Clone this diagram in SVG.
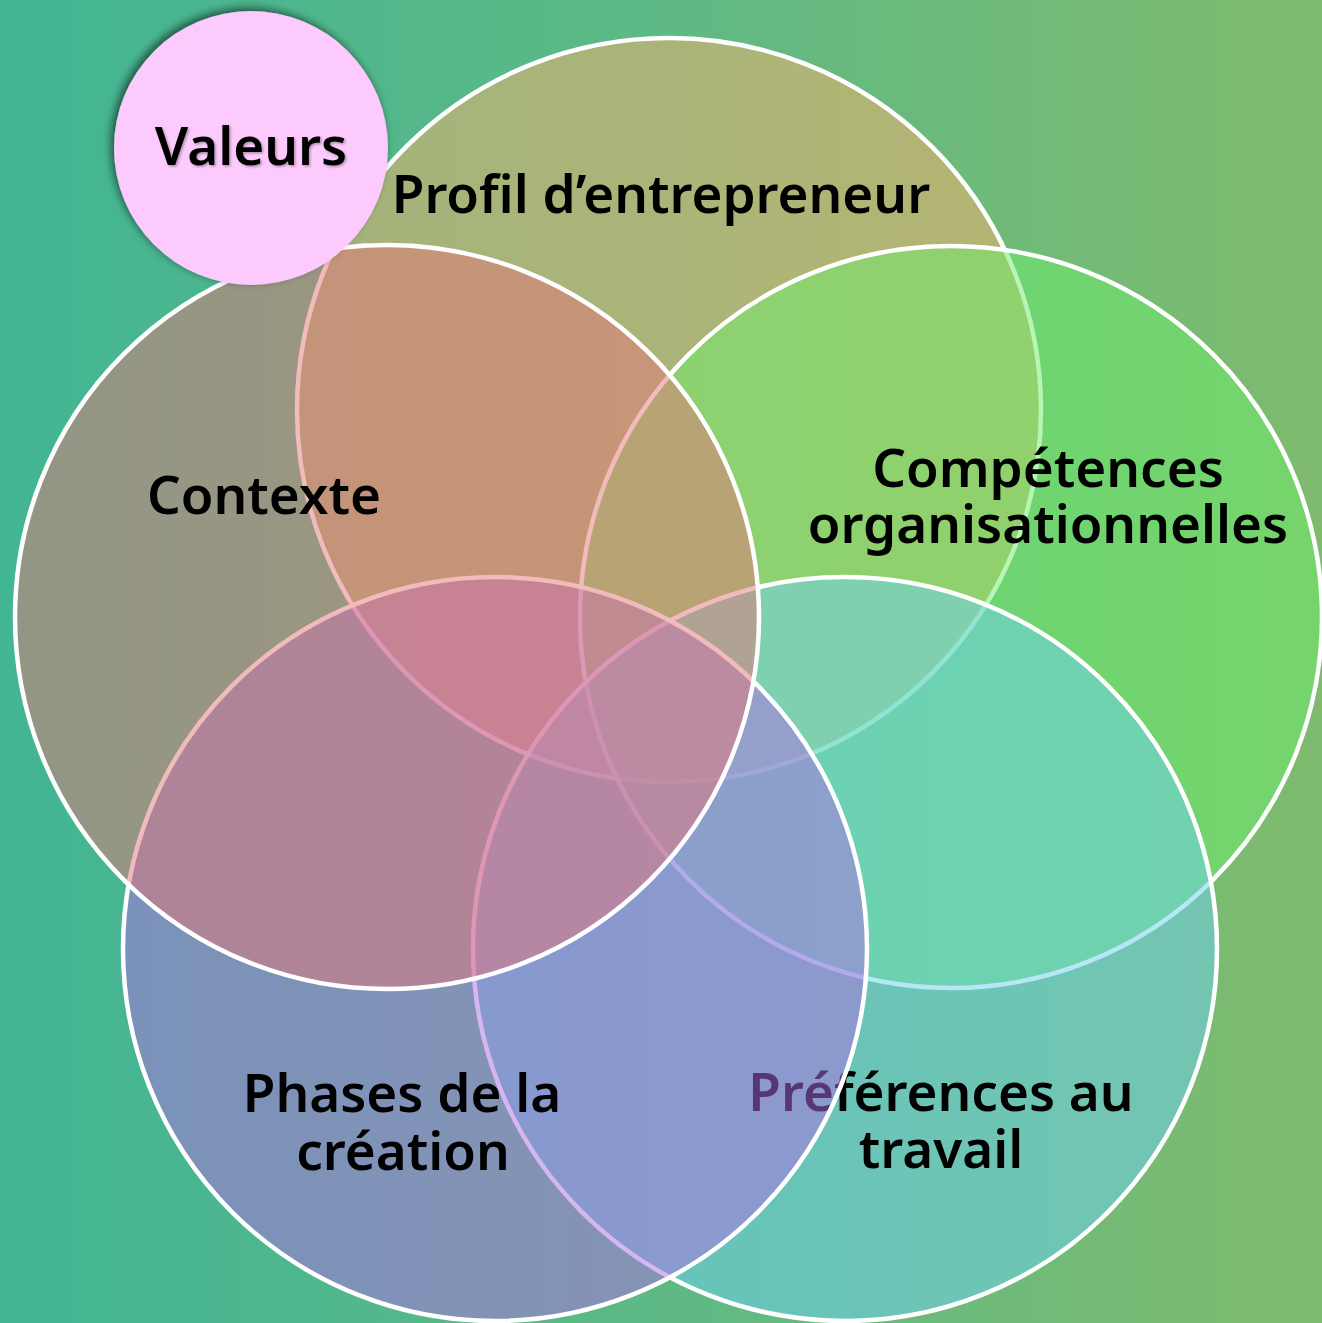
<svg xmlns="http://www.w3.org/2000/svg" width="1322" height="1323" viewBox="0 0 1322 1323">
<style>
.c{stroke:#ffffff;stroke-width:4.5}
.t{font-family:"Noto Sans","Open Sans","Liberation Sans",sans-serif;font-size:53px;font-weight:600;fill:#000000;text-anchor:middle}
.v{font-family:"Noto Sans","Open Sans","Liberation Sans",sans-serif;font-size:53px;font-weight:600;fill:#000000;text-anchor:middle}
</style>
<defs>
<linearGradient id="bg" x1="0" y1="0" x2="1" y2="0">
<stop offset="0" stop-color="#42b594"/>
<stop offset="0.5" stop-color="#5eb985"/>
<stop offset="1" stop-color="#7fbb6e"/>
</linearGradient>
<filter id="sh" x="-20%" y="-20%" width="140%" height="140%">
<feDropShadow dx="-3" dy="-3" stdDeviation="4" flood-color="#000000" flood-opacity="0.55"/>
</filter>
<filter id="tsh" x="-10%" y="-20%" width="120%" height="140%">
<feDropShadow dx="1.5" dy="1.5" stdDeviation="1.2" flood-color="#000000" flood-opacity="0.3"/>
</filter>
</defs>
<rect x="0" y="0" width="1322" height="1323" fill="url(#bg)"/>
<g id="connectors"/>
<g id="profil">
<circle class="c" cx="669" cy="410" r="372" fill="#f7af6c" fill-opacity="0.5"/>
<text class="t" x="661" y="213">Profil d’entrepreneur</text>
</g>
<g id="competences">
<circle class="c" cx="951" cy="617" r="371" fill="#6eed69" fill-opacity="0.5"/>
<text class="t" x="1048" y="487">Compétences</text>
<text class="t" x="1048" y="543">organisationnelles</text>
</g>
<g id="preferences">
<circle class="c" cx="845" cy="949" r="372" fill="#6ecfef" fill-opacity="0.5"/>
<text class="t" x="941" y="1111">Préférences au</text>
<text class="t" x="941" y="1168">travail</text>
</g>
<g id="phases">
<circle class="c" cx="495" cy="949" r="372" fill="#ae6de4" fill-opacity="0.5"/>
<text class="t" x="402" y="1112">Phases de la</text>
<text class="t" x="403" y="1170">création</text>
</g>
<g id="contexte">
<circle class="c" cx="387" cy="617" r="372" fill="#e47677" fill-opacity="0.5"/>
<text class="t" x="264" y="514">Contexte</text>
</g>
<g id="valeurs">
<circle cx="251" cy="148" r="137" fill="#fccafc" filter="url(#sh)"/>
<text class="v" x="251" y="165" filter="url(#tsh)">Valeurs</text>
</g>
</svg>
